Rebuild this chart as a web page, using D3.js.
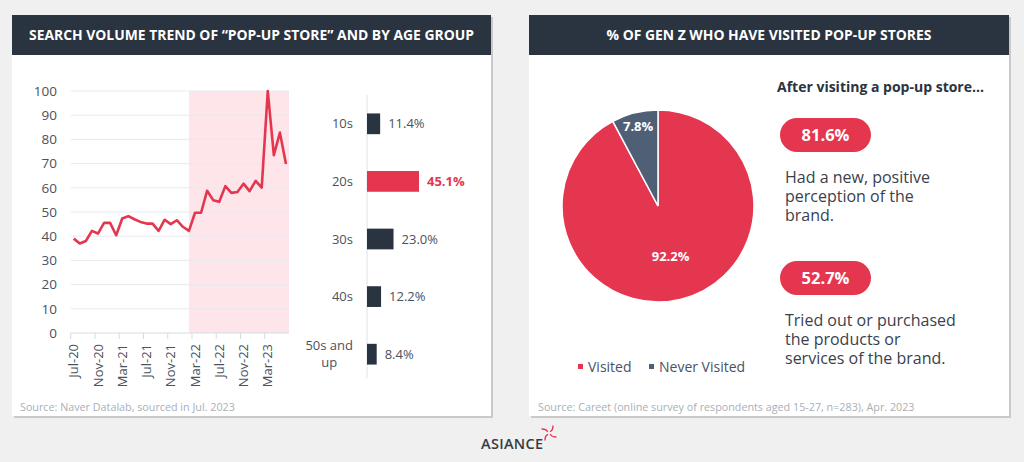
<!DOCTYPE html>
<html>
<head>
<meta charset="utf-8">
<script src="https://cdn.jsdelivr.net/npm/d3@7"></script>
<style>
  body { margin: 0; background: #f0f0f0; }
  svg { display: block; font-family: "Open Sans", sans-serif; }
</style>
</head>
<body>
<svg id="chart" width="1024" height="462"></svg>
<script>
// search volume index, monthly Jul-20 .. Jun-23
var months = ["Jul-20","Aug-20","Sep-20","Oct-20","Nov-20","Dec-20","Jan-21","Feb-21","Mar-21","Apr-21","May-21","Jun-21",
              "Jul-21","Aug-21","Sep-21","Oct-21","Nov-21","Dec-21","Jan-22","Feb-22","Mar-22","Apr-22","May-22","Jun-22",
              "Jul-22","Aug-22","Sep-22","Oct-22","Nov-22","Dec-22","Jan-23","Feb-23","Mar-23","Apr-23","May-23","Jun-23"];
var volume = [39, 37, 38, 42.2, 41.1, 45.5, 45.5, 40.4, 47.3, 48.3, 47, 45.9,
              45.2, 45.2, 42.2, 46.8, 45, 46.6, 43.9, 42.2, 49.7, 49.7, 58.8, 54.9,
              54.2, 60.7, 57.9, 58.3, 61.7, 58.6, 62.9, 60.1, 100, 73.5, 82.8, 69.8];
var monthTicks = ["Jul-20","Nov-20","Mar-21","Jul-21","Nov-21","Mar-22","Jul-22","Nov-22","Mar-23"];
var yTicks = [0, 10, 20, 30, 40, 50, 60, 70, 80, 90, 100];
var shadeFrom = "Feb-22";

var ageGroups = ["10s", "20s", "30s", "40s", "50s and up"];
var ageShare = [11.4, 45.1, 23.0, 12.2, 8.4];

var pieLabels = ["Visited", "Never Visited"];
var pieValues = [92.2, 7.8];

var afterStats = ["81.6%", "52.7%"];
var afterTexts = [["Had a new, positive", "perception of the", "brand."],
                  ["Tried out or purchased", "the products or", "services of the brand."]];

var red = "#e5364f", dark = "#2a3340", slate = "#4f6076", txt = "#3a414c";

var svg = d3.select("#chart");

// panels
function panel(x, w, title) {
    svg.append("rect").attr("x", x + 2).attr("y", 17).attr("width", w).attr("height", 401).attr("fill", "#c9c9c9");
    svg.append("rect").attr("x", x).attr("y", 15).attr("width", w).attr("height", 401).attr("fill", "#fff");
    svg.append("rect").attr("x", x).attr("y", 15).attr("width", w).attr("height", 40).attr("fill", dark);
    svg.append("text").attr("x", x + w / 2).attr("y", 40).attr("text-anchor", "middle")
        .attr("fill", "#fff").attr("font-weight", 700).attr("font-size", 13.9).text(title);
}
panel(12, 479, "SEARCH VOLUME TREND OF \u201CPOP-UP STORE\u201D AND BY AGE GROUP");
panel(529, 480, "% OF GEN Z WHO HAVE VISITED POP-UP STORES");

// line chart
var x = d3.scaleBand().domain(months).range([70.7, 289]);
var y = d3.scaleLinear().domain([0, 100]).range([333, 91]);
var bw = x.bandwidth();

svg.append("rect")
    .attr("x", x(shadeFrom) + bw / 2).attr("y", y(100))
    .attr("width", 289 - x(shadeFrom) - bw / 2).attr("height", y(0) - y(100))
    .attr("fill", "#fde5ea");

svg.selectAll(".grid").data(yTicks).enter().append("line")
    .attr("class", "grid")
    .attr("x1", 70.7).attr("x2", 289)
    .attr("y1", function(d) { return y(d); }).attr("y2", function(d) { return y(d); })
    .attr("stroke", function(d) { return d == 0 ? "#d5dbe3" : "#e6eaf0"; })
    .attr("stroke-width", 1);

svg.selectAll(".ylab").data(yTicks).enter().append("text")
    .attr("x", 57).attr("y", function(d) { return y(d); }).attr("dy", "0.35em")
    .attr("text-anchor", "end").attr("font-size", 13.5).attr("fill", "#4a525e")
    .text(function(d) { return d; });

svg.selectAll(".xtick").data(monthTicks).enter().append("line")
    .attr("x1", function(d) { return x(d); }).attr("x2", function(d) { return x(d); })
    .attr("y1", 333).attr("y2", 339).attr("stroke", "#d5dbe3");

svg.selectAll(".xlab").data(monthTicks).enter().append("text")
    .attr("transform", function(d) { return "translate(" + (x(d) + bw / 2) + ",344) rotate(-90)"; })
    .attr("dy", "0.35em").attr("text-anchor", "end").attr("font-size", 13).attr("fill", "#4a525e")
    .text(function(d) { return d; });

var line = d3.line()
    .x(function(d, i) { return x(months[i]) + bw / 2; })
    .y(function(d) { return y(d); });

svg.append("path").datum(volume)
    .attr("d", line).attr("fill", "none")
    .attr("stroke", red).attr("stroke-width", 2.6).attr("stroke-linejoin", "round");

// age group bars
var by = d3.scaleBand().domain(ageGroups).range([95, 383]).paddingInner(0.64).paddingOuter(0.32);
var bx = d3.scaleLinear().domain([0, 45.1]).range([367, 419]);

svg.append("line").attr("x1", 367).attr("x2", 367).attr("y1", 95).attr("y2", 378)
    .attr("stroke", "#dde3ea");

svg.selectAll(".bar").data(ageShare).enter().append("rect")
    .attr("x", bx(0))
    .attr("y", function(d, i) { return by(ageGroups[i]); })
    .attr("width", function(d) { return bx(d) - bx(0); })
    .attr("height", by.bandwidth())
    .attr("fill", function(d, i) { return i == 1 ? red : dark; });

svg.selectAll(".bval").data(ageShare).enter().append("text")
    .attr("x", function(d) { return bx(d) + 8; })
    .attr("y", function(d, i) { return by(ageGroups[i]) + by.bandwidth() / 2; })
    .attr("dy", "0.35em").attr("font-size", 13)
    .attr("font-weight", function(d, i) { return i == 1 ? 700 : 400; })
    .attr("fill", function(d, i) { return i == 1 ? red : "#4a525e"; })
    .text(function(d) { return d.toFixed(1) + "%"; });

ageGroups.forEach(function(g) {
    var cy = by(g) + by.bandwidth() / 2;
    var parts = g == "50s and up" ? ["50s and", "up"] : [g];
    var t = svg.append("text").attr("font-size", 13).attr("fill", "#4a525e").attr("text-anchor", "middle");
    parts.forEach(function(p, i) {
        t.append("tspan").attr("x", 0)
            .attr("y", cy + (i - (parts.length - 1) / 2) * 17).attr("dy", "0.35em").text(p);
    });
    var w = t.node().getBBox().width;
    t.selectAll("tspan").attr("x", 353 - w / 2);
});

// pie
var cx = 658, cy = 206, r = 96;
var pie = d3.pie().sort(null)(pieValues);
var arc = d3.arc().innerRadius(0).outerRadius(r);
var g = svg.append("g").attr("transform", "translate(" + cx + "," + cy + ")");
g.selectAll("path").data(pie).enter().append("path")
    .attr("d", arc)
    .attr("fill", function(d, i) { return i == 0 ? red : slate; })
    .attr("stroke", "#fff").attr("stroke-width", 1.5);
g.selectAll(".plab").data(pie).enter().append("text")
    .attr("transform", function(d, i) {
        var rr = i == 0 ? 52 : 82;
        return "translate(" + d3.arc().innerRadius(rr).outerRadius(rr).centroid(d) + ")";
    })
    .attr("dy", "0.35em").attr("text-anchor", "middle")
    .attr("fill", "#fff").attr("font-weight", 700).attr("font-size", 13)
    .text(function(d) { return d.value.toFixed(1) + "%"; });

var legX = [578, 649];
pieLabels.forEach(function(l, i) {
    svg.append("rect").attr("x", legX[i]).attr("y", 364).attr("width", 5).attr("height", 5)
        .attr("fill", i == 0 ? red : slate);
    svg.append("text").attr("x", legX[i] + 10).attr("y", 367).attr("dy", "0.35em")
        .attr("font-size", 14).attr("fill", "#4a525e").text(l);
});

// after visiting text
svg.append("text").attr("x", 777).attr("y", 92).attr("font-size", 14).attr("font-weight", 700)
    .attr("fill", "#2a3340").text("After visiting a pop-up store...");

var pillY = [118, 261];
afterStats.forEach(function(s, i) {
    svg.append("rect").attr("x", 780).attr("y", pillY[i]).attr("width", 91).attr("height", 34)
        .attr("rx", 17).attr("fill", red);
    svg.append("text").attr("x", 825.5).attr("y", pillY[i] + 17).attr("dy", "0.35em")
        .attr("text-anchor", "middle").attr("fill", "#fff").attr("font-weight", 700).attr("font-size", 16.5)
        .text(s);
    var para = svg.append("text").attr("font-size", 16).attr("fill", txt);
    afterTexts[i].forEach(function(t, j) {
        para.append("tspan").attr("x", 785).attr("y", pillY[i] + 59 + j * 19.4).attr("dy", "0.35em").text(t);
    });
});

// sources
svg.append("text").attr("x", 20).attr("y", 407).attr("dy", "0.35em").attr("font-size", 10.75)
    .attr("fill", "#a9afb7").text("Source: Naver Datalab, sourced in Jul. 2023");
svg.append("text").attr("x", 538).attr("y", 407).attr("dy", "0.35em").attr("font-size", 10.75)
    .attr("fill", "#a9afb7").text("Source: Careet (online survey of respondents aged 15-27, n=283), Apr. 2023");

// logo
svg.append("text").attr("x", 481).attr("y", 449).attr("font-size", 14.5).attr("font-weight", 600)
    .attr("letter-spacing", 0.3).attr("fill", "#363b44").text("ASIANCE");
var mark = svg.append("g").attr("transform", "translate(549,433)");
[0, 90, 180, 270].forEach(function(a) {
    mark.append("path").attr("d", "M1.5,-1.5 Q4,-3 4,-7").attr("transform", "rotate(" + a + ")")
        .attr("fill", "none").attr("stroke", red).attr("stroke-width", 1.3).attr("stroke-linecap", "round");
});
</script>
</body>
</html>
